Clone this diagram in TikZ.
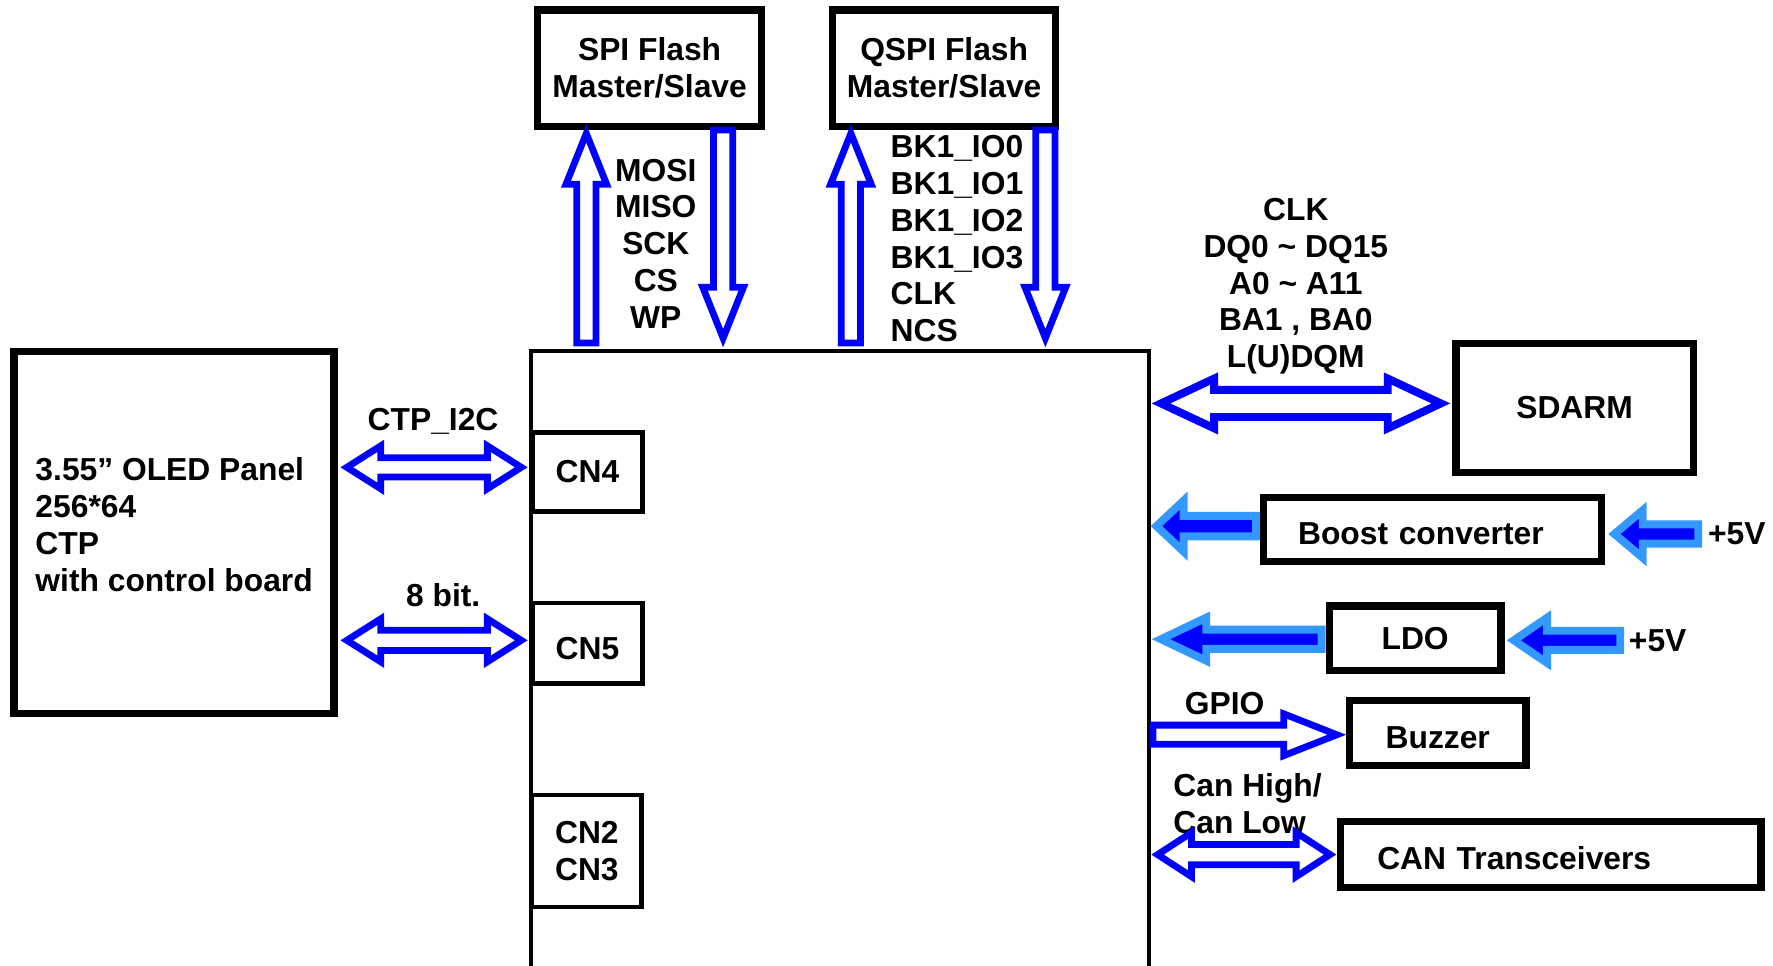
\documentclass[tikz,border=0pt]{standalone}
\usepackage{fontspec}
\setmainfont{Liberation Sans}
\usepackage{tikz}
\usetikzlibrary{calc}

\definecolor{busblue}{RGB}{0,0,255}
\definecolor{pwrblue}{RGB}{51,153,255}

\newcommand{\sarrowh}[6]{\draw[#1] let \p1=(#2), \p2=(#3), \p3=($(#3)!#6!(#2)$) in
    (\x1,\y1+#4) -- (\x3,\y1+#4) -- (\x3,\y1+#5) -- (\x2,\y1) -- (\x3,\y1-#5) -- (\x3,\y1-#4) -- (\x1,\y1-#4) -- cycle;}
\newcommand{\sarrowv}[6]{\draw[#1] let \p1=(#2), \p2=(#3), \p3=($(#3)!#6!(#2)$) in
    (\x1+#4,\y1) -- (\x1+#4,\y3) -- (\x1+#5,\y3) -- (\x1,\y2) -- (\x1-#5,\y3) -- (\x1-#4,\y3) -- (\x1-#4,\y1) -- cycle;}
\newcommand{\darrowh}[6]{\draw[#1] let \p1=(#2), \p2=(#3), \p3=($(#2)!#6!(#3)$), \p4=($(#3)!#6!(#2)$) in
    (\x1,\y1) -- (\x3,\y1+#5) -- (\x3,\y1+#4) -- (\x4,\y1+#4) -- (\x4,\y1+#5) -- (\x2,\y1)
    -- (\x4,\y1-#5) -- (\x4,\y1-#4) -- (\x3,\y1-#4) -- (\x3,\y1-#5) -- cycle;}

\begin{document}
\begin{tikzpicture}[every node/.style={font=\bfseries\fontsize{8}{9.25}\selectfont, inner sep=0pt},
        box/.style={draw, line width=0.065cm},
        cnbox/.style={draw, line width=0.04cm, minimum width=0.97cm, align=center},
        bus/.style={draw=busblue, line width=0.06cm},
        pwr/.style={draw=pwrblue, fill=busblue, line width=0.07cm}]
    \useasboundingbox (0,0) rectangle (15.68,8.543);

    \node[draw, line width=0.035cm, anchor=north west, minimum width=5.465cm, minimum height=6cm] (mcu) at (4.6775,5.4525) {};
    \node[box, minimum width=1.98cm, minimum height=1.03cm, align=center] (spi) at (5.745,7.94) {SPI Flash\\Master/Slave};
    \node[box, minimum width=1.97cm, minimum height=1.03cm, align=center] (qspi) at (8.35,7.94) {QSPI Flash\\Master/Slave};
    \node[box, minimum width=2.83cm, minimum height=3.2cm, text depth=0.14cm, align=left] (panel) at (1.54,3.835) {3.55” OLED Panel\\256*64\\CTP\\with control board};
    \node[cnbox, minimum height=0.70cm] (cn4) at (5.195,4.37) {CN4};
    \node[cnbox, minimum height=0.71cm, text height=0.3cm] (cn5) at (5.195,2.855) {CN5};
    \node[cnbox, minimum height=0.99cm] (cn23) at (5.19,1.015) {CN2\\CN3};
    \node[box, minimum width=2.10cm, minimum height=1.14cm] (sdram) at (13.925,4.935) {SDARM};
    \node[box, minimum height=0.57cm, text height=0.26cm, text width=2.38cm, inner xsep=0.305cm, align=left] (boost) at (12.67,3.86) {Boost converter};
    \node[box, minimum width=1.52cm, minimum height=0.57cm] (ldo) at (12.515,2.90) {LDO};
    \node[box, minimum width=1.56cm, minimum height=0.57cm, text height=0.28cm] (buzzer) at (12.715,2.06) {Buzzer};
    \node[box, minimum height=0.58cm, text height=0.26cm, text width=3.07cm, inner xsep=0.325cm, align=left] (can) at (13.715,0.985) {CAN Transceivers};

    \node[align=center] (spisig) at (5.80,6.39) {MOSI\\MISO\\SCK\\CS\\WP};
    \node[align=left, anchor=west] (qspisig) at (7.87,6.43) {BK1\_IO0\\BK1\_IO1\\BK1\_IO2\\BK1\_IO3\\CLK\\NCS};
    \node[align=center] (sdramsig) at (11.46,6.01) {CLK\\DQ0 \textasciitilde{} DQ15\\A0 \textasciitilde{} A11\\BA1 , BA0\\L(U)DQM};
    \node (i2clbl) at (3.83,4.82) {CTP\_I2C};
    \node (bitlbl) at (3.92,3.28) {8 bit.};
    \node (gpiolbl) at (10.83,2.32) {GPIO};
    \node[align=left, anchor=west] (canlbl) at (10.37,1.435) {Can High/\\Can Low};
    \node (vboost) at (15.36,3.82) {+5V};
    \node (vldo) at (14.66,2.88) {+5V};

    \coordinate (spi up) at (5.185,5.51);
    \coordinate (spi up end) at ($(spi up |- spi.south)+(0,-0.03)$);
    \coordinate (spi down) at ($(spi.south)+(0.65,0)$);
    \coordinate (spi down end) at ($(spi down |- mcu.north)+(0,0.1)$);
    \coordinate (qspi up) at (7.525,5.51);
    \coordinate (qspi up end) at ($(qspi up |- qspi.south)+(0,-0.03)$);
    \coordinate (qspi down) at ($(qspi.south)+(0.895,0)$);
    \coordinate (qspi down end) at ($(qspi down |- mcu.north)+(0,0.1)$);
    \sarrowv{bus}{spi up}{spi up end}{0.085cm}{0.18cm}{0.45cm}
    \sarrowv{bus}{spi down}{spi down end}{0.085cm}{0.18cm}{0.45cm}
    \sarrowv{bus}{qspi up}{qspi up end}{0.085cm}{0.18cm}{0.45cm}
    \sarrowv{bus}{qspi down}{qspi down end}{0.085cm}{0.18cm}{0.45cm}

    \coordinate (i2c l) at ($(panel.east)+(0.08,0.575)$);
    \coordinate (i2c r) at ($(cn4.west)+(-0.08,0.04)$);
    \coordinate (bit l) at ($(panel.east)+(0.08,-0.955)$);
    \coordinate (bit r) at ($(cn5.west)+(-0.08,0.025)$);
    \darrowh{bus}{i2c l}{i2c r}{0.085cm}{0.19cm}{0.30cm}
    \darrowh{bus}{bit l}{bit r}{0.09cm}{0.19cm}{0.30cm}

    \coordinate (mem l) at ($(mcu.east |- sdram.west)+(0.09,0.04)$);
    \coordinate (mem r) at ($(sdram.west)+(-0.1,0.04)$);
    \darrowh{draw=busblue, line width=0.07cm}{mem l}{mem r}{0.12cm}{0.22cm}{0.47cm}

    \coordinate (boost out) at ($(boost.west)+(-0.035,0.03)$);
    \coordinate (boost out end) at ($(mcu.east |- boost.west)+(0.05,0.03)$);
    \coordinate (boost in) at ($(vboost.west)+(-0.08,0)$);
    \coordinate (boost in end) at ($(boost.east |- vboost.west)+(0.08,0)$);
    \sarrowh{pwr}{boost out}{boost out end}{0.09cm}{0.225cm}{0.24cm}
    \sarrowh{pwr}{boost in}{boost in end}{0.085cm}{0.21cm}{0.25cm}

    \coordinate (ldo out) at ($(ldo.west)+(-0.035,-0.01)$);
    \coordinate (ldo out end) at ($(mcu.east |- ldo.west)+(0.09,-0.01)$);
    \coordinate (ldo in) at ($(vldo.west)+(-0.07,0)$);
    \coordinate (ldo in end) at ($(ldo.east |- vldo.west)+(0.08,0)$);
    \sarrowh{pwr}{ldo out}{ldo out end}{0.085cm}{0.19cm}{0.40cm}
    \sarrowh{pwr}{ldo in}{ldo in end}{0.085cm}{0.20cm}{0.295cm}

    \coordinate (gpio) at ($(mcu.east |- buzzer.west)+(0.02,-0.015)$);
    \coordinate (gpio end) at ($(buzzer.west)+(-0.08,-0.015)$);
    \sarrowh{bus}{gpio}{gpio end}{0.085cm}{0.185cm}{0.47cm}

    \coordinate (can l) at ($(mcu.east |- can.west)+(0.06,0)$);
    \coordinate (can r) at ($(can.west)+(-0.06,0)$);
    \darrowh{bus}{can l}{can r}{0.09cm}{0.195cm}{0.30cm}
\end{tikzpicture}
\end{document}
